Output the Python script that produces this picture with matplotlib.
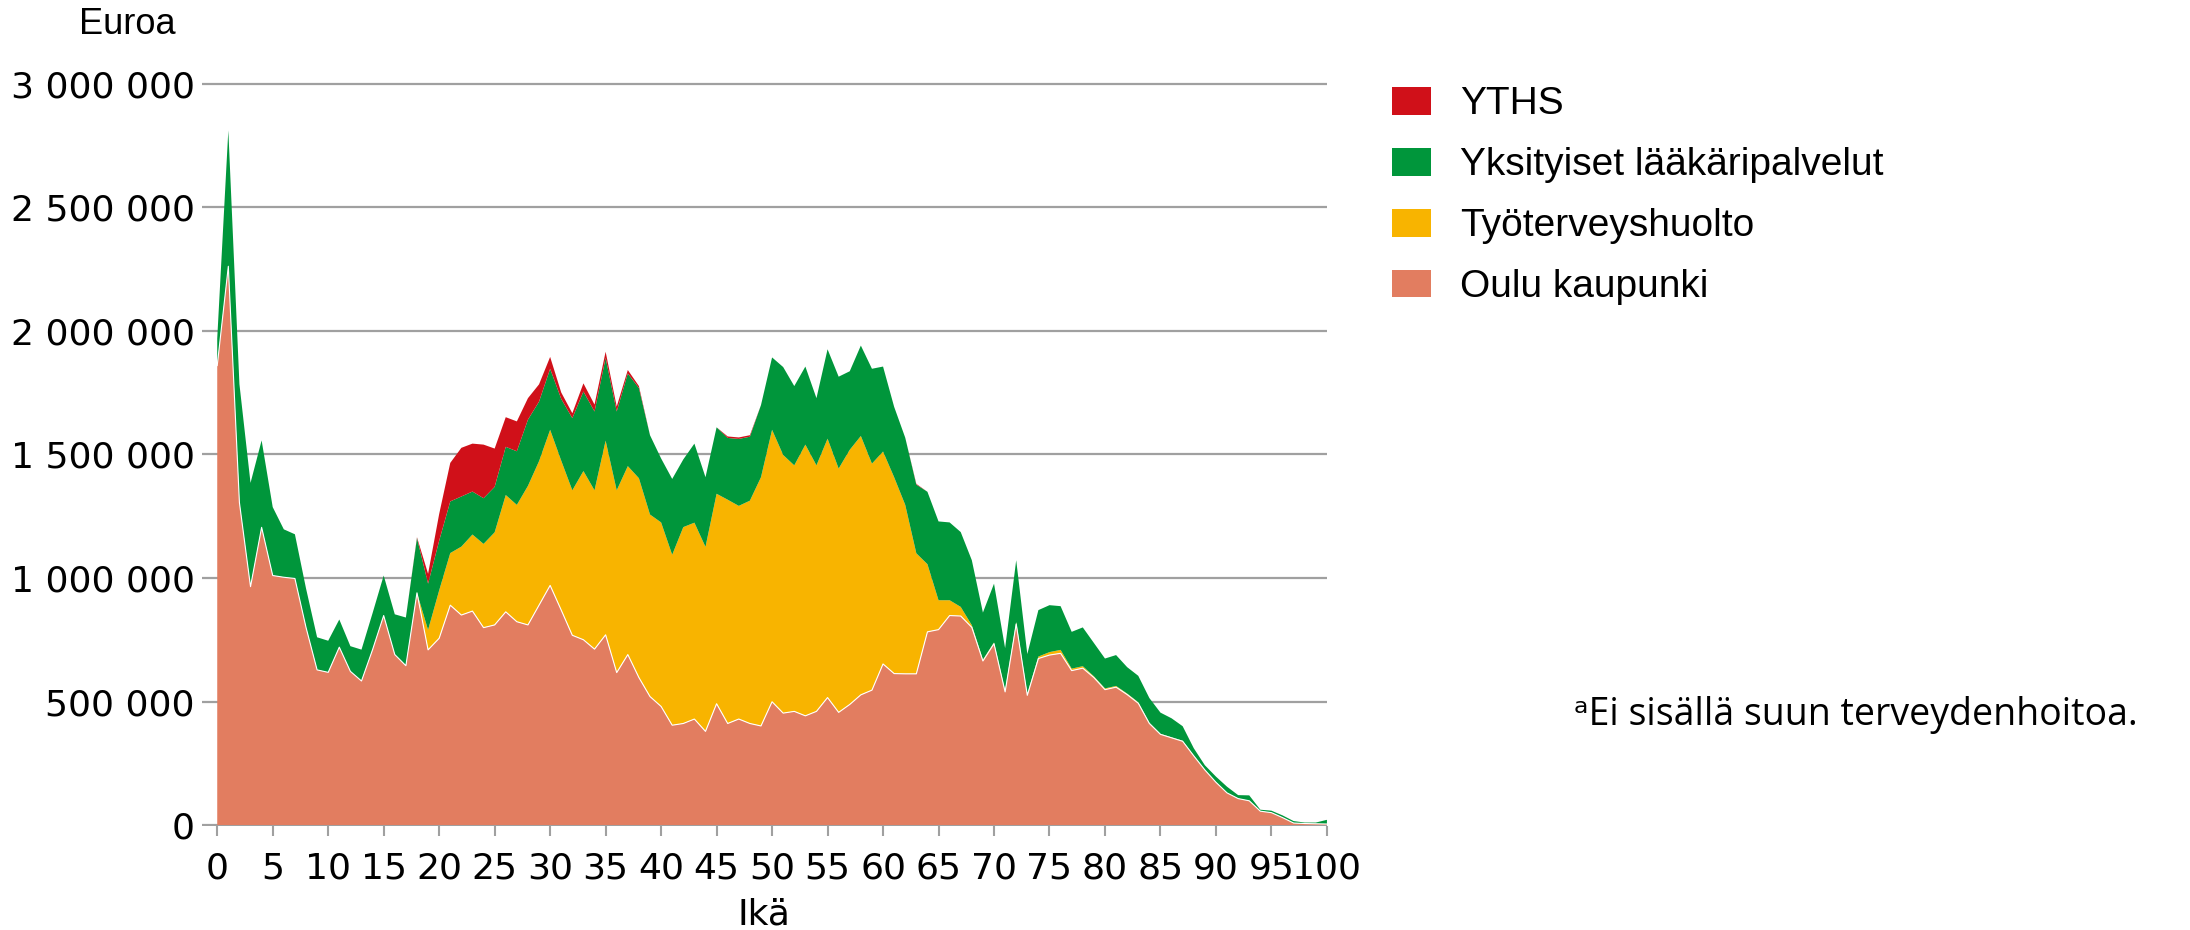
import matplotlib
matplotlib.use('Agg')
import numpy as np
from matplotlib import pyplot as plt
from matplotlib.patches import Patch
from matplotlib.ticker import FuncFormatter

# ages 0..100, values in thousands of euros
ages = list(range(0, 101))

oulu = [1860, 2262, 1305, 965, 1205, 1010, 1003, 998, 800, 628,
        618, 720, 622, 583, 710, 848, 690, 645, 940, 709,
        756, 890, 850, 866, 799, 810, 863, 823, 810, 890,
        970, 870, 768, 750, 712, 770, 617, 690, 597, 520,
        480, 404, 411, 429, 379, 491, 411, 429, 411, 401,
        499, 453, 460, 442, 460, 516, 456, 488, 527, 546,
        652, 613, 612, 612, 782, 791, 848, 846, 800, 664,
        734, 539, 814, 525, 674, 688, 695, 625, 635, 597,
        548, 558, 528, 493, 411, 367, 353, 339, 280, 223,
        173, 130, 107, 98, 56, 50, 30, 8, 6, 5,
        4]

tyoterveys = [0, 0, 0, 0, 0, 0, 0, 0, 0, 0,
              0, 0, 0, 0, 0, 0, 0, 0, 0, 81,
              194, 211, 277, 310, 339, 375, 473, 473, 563, 583,
              630, 605, 587, 683, 643, 786, 738, 763, 807, 737,
              745, 690, 795, 795, 747, 850, 906, 863, 902, 1007,
              1101, 1045, 996, 1098, 996, 1048, 987, 1031, 1048, 917,
              860, 795, 684, 488, 274, 119, 62, 37, 9, 5,
              5, 5, 8, 5, 8, 12, 14, 8, 8, 5,
              5, 5, 4, 4, 3, 2, 2, 2, 1, 0,
              0, 0, 0, 0, 0, 0, 0, 0, 0, 0,
              0]

yksityiset = [110, 550, 480, 420, 352, 277, 194, 179, 158, 132,
              128, 112, 102, 127, 148, 162, 163, 195, 222, 187,
              201, 209, 203, 174, 185, 184, 195, 217, 268, 241,
              247, 250, 292, 322, 319, 335, 319, 375, 365, 321,
              259, 307, 274, 320, 282, 269, 250, 271, 259, 292,
              293, 356, 321, 316, 272, 362, 372, 318, 366, 384,
              344, 285, 272, 278, 293, 319, 315, 303, 263, 191,
              238, 172, 250, 162, 188, 190, 177, 149, 157, 135,
              121, 125, 107, 107, 100, 86, 77, 59, 30, 19,
              23, 25, 14, 22, 6, 8, 9, 8, 4, 5,
              17]

yths = [0, 0, 0, 0, 0, 0, 0, 0, 0, 0,
        0, 0, 0, 0, 0, 0, 0, 0, 3, 40,
        108, 156, 197, 194, 217, 155, 120, 121, 87, 70,
        48, 26, 20, 33, 28, 25, 20, 14, 8, 0,
        0, 0, 0, 0, 0, 0, 6, 6, 6, 0,
        0, 0, 0, 0, 0, 0, 0, 0, 0, 0,
        0, 0, 0, 3, 0, 0, 0, 0, 0, 0,
        0, 0, 0, 0, 0, 0, 0, 0, 0, 0,
        0, 0, 0, 0, 0, 0, 0, 0, 0, 0,
        0, 0, 0, 0, 0, 0, 0, 0, 0, 0,
        0]

labels = ['Oulu kaupunki', 'Työterveyshuolto', 'Yksityiset lääkäripalvelut', 'YTHS']
colors = ['#E27D60', '#F8B400', '#00963B', '#D01019']


def space_thousands(v, pos):
    return f'{int(round(v)):,}'.replace(',', ' ')


fig = plt.figure(figsize=(21.9, 9.3), dpi=100)
ax = fig.add_axes([0.0922, 0.1113, 0.5137, 0.8])

series = [np.array(s) * 1000 for s in (oulu, tyoterveys, yksityiset, yths)]
ax.stackplot(ages, *series, colors=colors, linewidth=0, zorder=2)
ax.plot(ages, series[0], color='white', linewidth=0.8, zorder=3)

ax.set_xlim(-1.38, 100)
ax.set_ylim(-6000, 3006000)
ax.set_xticks(range(0, 101, 5))
ax.set_yticks(range(0, 3000001, 500000))
ax.yaxis.set_major_formatter(FuncFormatter(space_thousands))

ax.set_axisbelow(True)
ax.grid(axis='y', color='#A0A0A0', linewidth=1.6)
for side in ['top', 'right', 'left', 'bottom']:
    ax.spines[side].set_visible(False)
ax.tick_params(axis='y', length=0, pad=5, labelsize=26)
ax.tick_params(axis='x', length=7, width=1.5, color='#A0A0A0', pad=11, labelsize=26)

ax.set_xlabel('Ikä', fontsize=26, labelpad=9)
fig.text(176 / 2190, 1 - 25 / 930, 'Euroa', ha='right', va='center',
         fontsize=26, family='Liberation Sans')

handles = [Patch(facecolor=c, edgecolor='none') for c in colors]
fig.legend(handles[::-1], labels[::-1], loc='upper left',
           bbox_to_anchor=(0.6356, 0.907), frameon=False,
           prop={'family': 'Liberation Sans', 'size': 28},
           handlelength=1.0, handleheight=0.72, handletextpad=0.75,
           labelspacing=0.64, borderpad=0, borderaxespad=0)

fig.text(1574 / 2190, 1 - 715 / 930, 'ᵃEi sisällä suun terveydenhoitoa.',
         ha='left', va='center', fontsize=27, family=['Open Sans', 'DejaVu Sans'])

fig.savefig('out.png', dpi=100)
